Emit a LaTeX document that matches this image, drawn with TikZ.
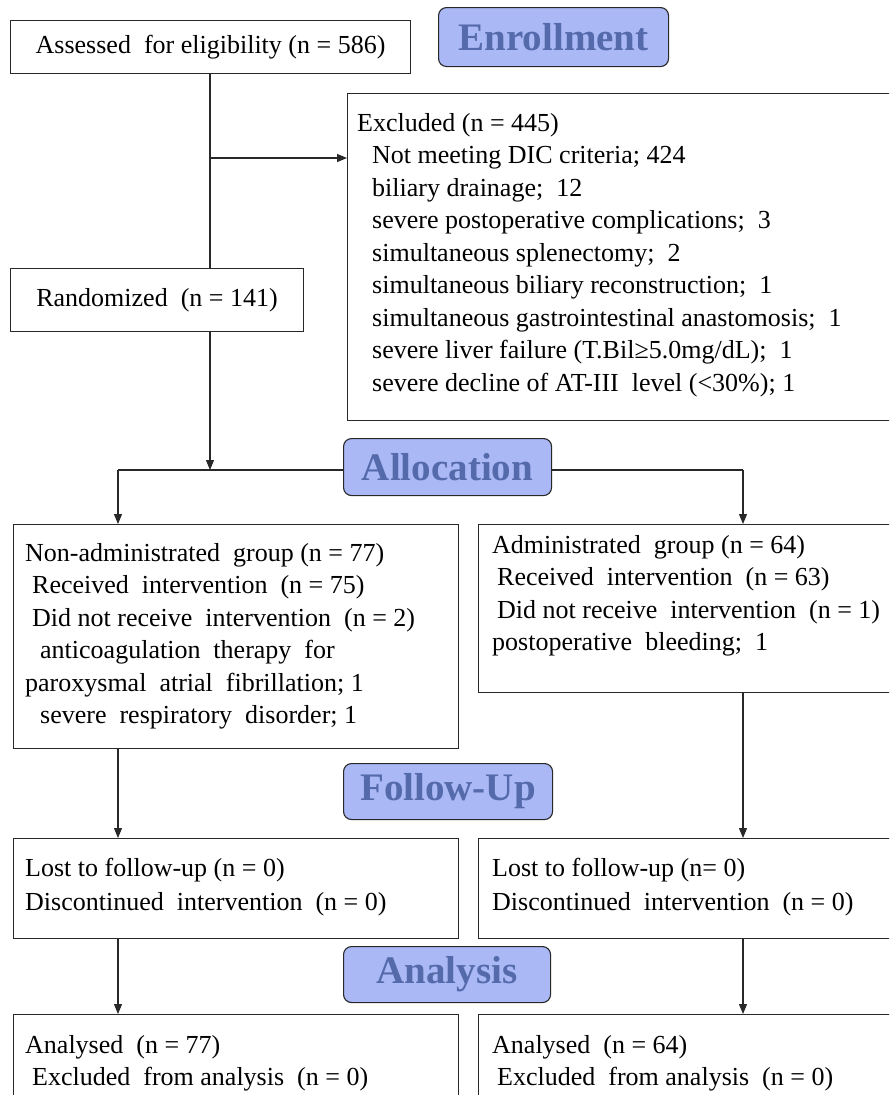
\documentclass[tikz,border=0pt]{standalone}
\usepackage{fontspec}
\setmainfont{Liberation Serif}
\usetikzlibrary{arrows.meta}
\definecolor{hdrfill}{RGB}{170,184,246}
\definecolor{hdrtext}{RGB}{84,106,170}
\definecolor{edgecol}{RGB}{40,40,40}
\newcommand{\boxlines}[1]{\begin{tabular}[t]{@{}l@{}}#1\end{tabular}}
\begin{document}
\begin{tikzpicture}[x=1pt,y=-1pt,
  box/.style={draw=edgecol, line width=1.1pt, fill=white, inner sep=0pt, anchor=north west,
              font=\fontsize{26}{32.5}\selectfont},
  hdr/.style={draw=edgecol, line width=1.1pt, fill=hdrfill, rounded corners=8pt, inner sep=0pt,
              anchor=north west, text=hdrtext, font=\fontsize{39}{44}\selectfont\bfseries},
  txt/.style={inner sep=0pt, anchor=base west, font=\fontsize{26}{32.5}\selectfont},
  arr/.style={draw=edgecol, line width=1.1pt, -{Triangle[length=10pt,width=8pt]}},
  ln/.style={draw=edgecol, line width=1.1pt}]
\clip (0,0) rectangle (889,1095);
\fill[white] (0,0) rectangle (889,1095);

% Enrollment
\node[box, minimum width=400pt, minimum height=53pt] (assess) at (10,20) {Assessed\ \ for eligibility\ (n = 586)};
\node[hdr, minimum width=230pt, minimum height=59pt] (enroll) at (438,7) {Enrollment};
\node[box, minimum width=560pt, minimum height=327pt] (excl) at (347,93) {};
\node[txt] (exclt) at (357,131) {\boxlines{Excluded (n = 445)\\
\hspace*{15pt}Not meeting DIC criteria; 424\\
\hspace*{15pt}biliary drainage;\ \ 12\\
\hspace*{15pt}severe postoperative complications;\ \ 3\\
\hspace*{15pt}simultaneous splenectomy;\ \ 2\\
\hspace*{15pt}simultaneous biliary reconstruction;\ \ 1\\
\hspace*{15pt}simultaneous gastrointestinal anastomosis;\ \ 1\\
\hspace*{15pt}severe liver failure (T.Bil≥5.0mg/dL);\ \ 1\\
\hspace*{15pt}severe decline of AT-III\ \ level (<30\%); 1}};
\node[box, minimum width=293pt, minimum height=63pt] (random) at (10,268) {Randomized\ \ (n = 141)};

\coordinate (br) at (210,158);
\draw[ln] (assess.south -| br) -- (br |- random.north);
\draw[arr] (br) -- (br -| excl.west);

% Allocation
\coordinate (aL) at (118,470);
\coordinate (aR) at (743,470);
\coordinate (aM) at (210,470);
\draw[ln] (aL) -- (aR);
\draw[arr] (random.south -| aM) -- (aM);
\node[hdr, minimum width=208pt, minimum height=57pt] (alloc) at (343,438) {Allocation};

\node[box, minimum width=445pt, minimum height=224pt] (grpL) at (13,524) {};
\node[box, minimum width=430pt, minimum height=168pt] (grpR) at (478,524) {};
\draw[arr] (aL) -- (aL |- grpL.north);
\draw[arr] (aR) -- (aR |- grpR.north);

\node[txt] (grpLt) at (25,561) {\boxlines{Non-administrated\ \ group (n = 77)\\
\hspace*{7pt}Received\ \ intervention\ \ (n = 75)\\
\hspace*{7pt}Did not receive\ \ intervention\ \ (n = 2)\\
\hspace*{15pt}anticoagulation\ \ therapy\ \ for\\
paroxysmal\ \ atrial\ \ fibrillation; 1\\
\hspace*{15pt}severe\ \ respiratory\ \ disorder; 1}};
\node[txt] (grpRt) at (492,553) {\boxlines{Administrated\ \ group (n = 64)\\
\hspace*{5pt}Received\ \ intervention\ \ (n = 63)\\
\hspace*{5pt}Did not receive\ \ intervention\ \ (n = 1)\\
postoperative\ \ bleeding;\ \ 1}};

% Follow-up
\node[hdr, minimum width=209pt, minimum height=56pt] (follow) at (343,763) {Follow-Up};
\node[box, minimum width=445pt, minimum height=100pt] (lostL) at (13,838) {};
\node[box, minimum width=430pt, minimum height=100pt] (lostR) at (478,838) {};
\draw[arr] (grpL.south -| aL) -- (aL |- lostL.north);
\draw[arr] (grpR.south -| aR) -- (aR |- lostR.north);
\node[txt] (lostLt) at (25,876) {\fontsize{26}{34}\selectfont\boxlines{Lost to follow-up (n = 0)\\
Discontinued\ \ intervention\ \ (n = 0)}};
\node[txt] (lostRt) at (492,876) {\fontsize{26}{34}\selectfont\boxlines{Lost to follow-up (n= 0)\\
Discontinued\ \ intervention\ \ (n = 0)}};

% Analysis
\node[hdr, minimum width=207pt, minimum height=56pt] (analysis) at (343,946) {Analysis};
\node[box, minimum width=445pt, minimum height=120pt] (anaL) at (13,1014) {};
\node[box, minimum width=430pt, minimum height=120pt] (anaR) at (478,1014) {};
\draw[arr] (lostL.south -| aL) -- (aL |- anaL.north);
\draw[arr] (lostR.south -| aR) -- (aR |- anaR.north);
\node[txt] (anaLt) at (25,1053) {\boxlines{Analysed\ \ (n = 77)\\
\hspace*{7pt}Excluded\ \ from\ analysis\ \ (n = 0)}};
\node[txt] (anaRt) at (492,1053) {\boxlines{Analysed\ \ (n = 64)\\
\hspace*{5pt}Excluded\ \ from\ analysis\ \ (n = 0)}};
\end{tikzpicture}
\end{document}
